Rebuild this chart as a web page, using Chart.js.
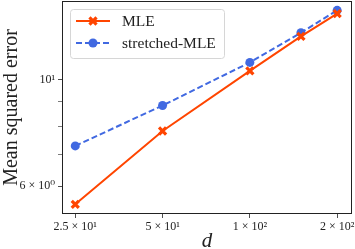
<!DOCTYPE html>
<html>
<head>
<meta charset="UTF-8">
<title>MSE vs d</title>
<style>
  html, body { margin: 0; padding: 0; background: #fff; }
  #wrap { width: 355px; height: 249px; }
</style>
</head>
<body>
<div id="wrap"><canvas id="myChart" width="355" height="249"></canvas></div>
<script src="https://cdn.jsdelivr.net/npm/chart.js@4"></script>
<script>
// values
var dValues = [25, 50, 100, 150, 200];
var mleValues = [5.50, 7.82, 10.44, 12.32, 13.74];
var stretchedValues = [7.28, 8.84, 10.87, 12.54, 13.96];
var xTickValues = [25, 50, 100, 200];
var xTickLabels = ['2.5 × 10¹', '5 × 10¹', '1 × 10²', '2 × 10²'];
var yTickValues = [6, 7, 8, 9, 10];
var yTickLabels = ['6 × 10⁰', '', '', '', '10¹'];

var serif = '"Liberation Serif", "DejaVu Serif", serif';

function pts(ys) {
  return dValues.map(function (d, i) { return { x: d, y: ys[i] }; });
}

// box around the plot, like matplotlib
var frame = {
  id: 'frame',
  afterDraw: function (chart) {
    var a = chart.chartArea, c = chart.ctx;
    c.save();
    c.strokeStyle = '#222';
    c.lineWidth = 1;
    c.strokeRect(a.left + 0.5, a.top + 0.5, a.right - a.left - 1, a.bottom - a.top - 1);
    c.restore();
  }
};

// legend drawn inside the axes, upper left
var innerLegend = {
  id: 'innerLegend',
  afterDraw: function (chart) {
    var c = chart.ctx;
    var x0 = 70, y0 = 9, w = 154, h = 49;
    c.save();
    c.beginPath();
    c.roundRect(x0 + 0.5, y0 + 0.5, w, h, 3);
    c.fillStyle = 'rgba(255,255,255,0.8)';
    c.fill();
    c.strokeStyle = '#d6d6d6';
    c.lineWidth = 1;
    c.stroke();
    chart.data.datasets.forEach(function (ds, i) {
      var y = 21 + i * 22;
      c.strokeStyle = ds.borderColor;
      c.lineWidth = ds.borderWidth;
      c.setLineDash(ds.borderDash || []);
      c.beginPath();
      c.moveTo(76, y);
      c.lineTo(110, y);
      c.stroke();
      c.setLineDash([]);
      c.fillStyle = ds.pointBackgroundColor;
      c.strokeStyle = ds.pointBorderColor;
      c.lineWidth = ds.pointBorderWidth;
      Chart.helpers.drawPoint(c, {
        pointStyle: ds.pointStyle,
        radius: ds.pointRadius,
        borderWidth: ds.pointBorderWidth,
        rotation: 0
      }, 93, y);
      c.fillStyle = '#222';
      c.font = '15.5px ' + serif;
      c.textBaseline = 'middle';
      c.fillText(ds.label, 122, y + 1);
    });
    c.restore();
  }
};

var ctx = document.getElementById('myChart').getContext('2d');
var myChart = new Chart(ctx, {
  type: 'line',
  data: {
    datasets: [{
      label: 'MLE',
      data: pts(mleValues),
      borderColor: '#ff4500',
      backgroundColor: '#ff4500',
      pointBorderColor: '#ff4500',
      pointBackgroundColor: '#ff4500',
      borderWidth: 2,
      pointStyle: 'crossRot',
      pointRadius: 5,
      pointBorderWidth: 3.2,
      fill: false
    }, {
      label: 'stretched-MLE',
      data: pts(stretchedValues),
      borderColor: '#4169e1',
      backgroundColor: '#4169e1',
      pointBorderColor: '#4169e1',
      pointBackgroundColor: '#4169e1',
      borderWidth: 2,
      borderDash: [6, 3],
      pointStyle: 'circle',
      pointRadius: 4.5,
      pointBorderWidth: 0,
      fill: false
    }]
  },
  options: {
    responsive: false,
    animation: false,
    layout: { autoPadding: false, padding: { top: 1, right: 3, left: 0, bottom: 0 } },
    plugins: {
      legend: { display: false },
      tooltip: { enabled: false }
    },
    scales: {
      x: {
        type: 'logarithmic',
        min: 22.5,
        max: 225,
        border: { display: false },
        grid: { drawOnChartArea: false, drawTicks: true, tickLength: 4, tickColor: '#222', tickWidth: 0.8 },
        afterBuildTicks: function (s) {
          s.ticks = xTickValues.map(function (v) { return { value: v }; });
        },
        afterFit: function (s) { s.height = 35; s.paddingLeft = 0; s.paddingRight = 0; },
        ticks: {
          autoSkip: false,
          maxRotation: 0,
          padding: 2,
          color: '#222',
          font: { family: serif, size: 12 },
          callback: function (v, i) { return xTickLabels[i]; }
        },
        title: {
          display: true,
          text: 'd',
          color: '#222',
          font: { family: serif, size: 21, style: 'italic', lineHeight: 1 },
          padding: { top: 0, bottom: -3 }
        }
      },
      y: {
        type: 'logarithmic',
        min: 5.25,
        max: 14.6,
        border: { display: false },
        grid: {
          drawOnChartArea: false, drawTicks: true, tickLength: 4, tickColor: '#222',
          tickWidth: function (c) { return yTickLabels[c.index] ? 0.8 : 0.6; }
        },
        afterBuildTicks: function (s) {
          s.ticks = yTickValues.map(function (v) { return { value: v }; });
        },
        afterFit: function (s) { s.width = 62; s.paddingTop = 0; s.paddingBottom = 0; },
        ticks: {
          autoSkip: false,
          padding: 3,
          color: '#222',
          font: { family: serif, size: 12 },
          callback: function (v, i) { return yTickLabels[i]; }
        },
        title: {
          display: true,
          text: 'Mean squared error',
          color: '#222',
          font: { family: serif, size: 20, lineHeight: 1 },
          padding: { top: 2, bottom: 0 }
        }
      }
    }
  },
  plugins: [frame, innerLegend]
});
</script>
</body>
</html>
